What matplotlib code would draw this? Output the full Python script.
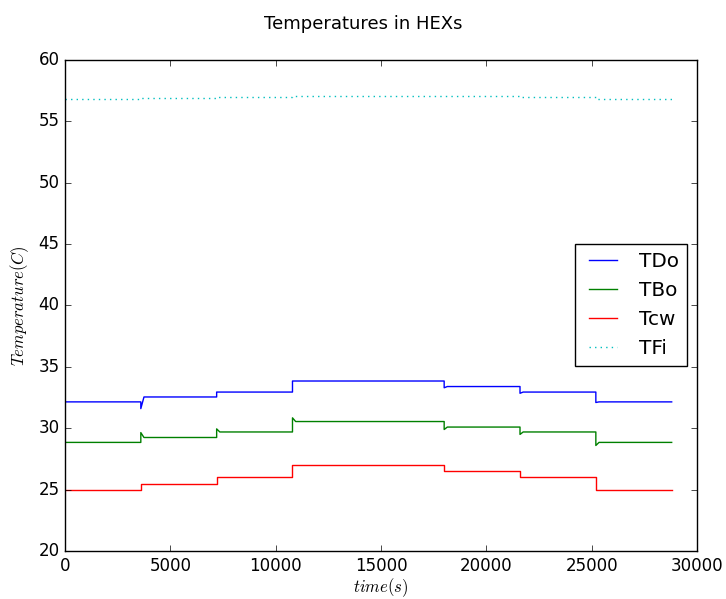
import matplotlib
matplotlib.use('Agg')
import matplotlib.pyplot as plt

plt.style.use('classic')

# step change times (s) and the level held after each step
step_times = [0, 3600, 7200, 10800, 18000, 21600, 25200, 28800]

tdo_levels = [32.15, 32.55, 32.95, 33.85, 33.4, 32.95, 32.15]
tdo_peaks = [31.6, 32.95, 33.85, 33.3, 32.85, 32.1]

tbo_levels = [28.85, 29.25, 29.7, 30.55, 30.1, 29.7, 28.85]
tbo_peaks = [29.65, 29.95, 30.85, 29.9, 29.5, 28.6]

tcw_levels = [25.0, 25.5, 26.0, 27.0, 26.55, 26.0, 25.0]
tcw_peaks = [25.5, 26.0, 27.0, 26.55, 26.0, 25.0]

tfi_levels = [56.82, 56.88, 56.95, 57.1, 57.07, 57.0, 56.82]
tfi_peaks = [56.88, 56.95, 57.1, 57.07, 57.0, 56.82]


def build(levels, peaks):
    x = [step_times[0]]
    y = [levels[0]]
    for i, t in enumerate(step_times[1:-1]):
        x += [t, t, t + 150]
        y += [levels[i], peaks[i], levels[i + 1]]
    x.append(step_times[-1])
    y.append(levels[-1])
    return x, y


fig = plt.figure(figsize=(7.26, 5.99), dpi=100, facecolor='white')
ax = fig.add_axes([0.0895, 0.08, 0.8705, 0.82])

ax.plot(*build(tdo_levels, tdo_peaks), color='b', label='TDo')
ax.plot(*build(tbo_levels, tbo_peaks), color='g', label='TBo')
ax.plot(*build(tcw_levels, tcw_peaks), color='r', label='Tcw')
ax.plot(*build(tfi_levels, tfi_peaks), color='c', linestyle=':', label='TFi')

ax.set_xlim(0, 30000)
ax.set_ylim(20, 60)
ax.set_xlabel('$time(s)$', labelpad=1)
ax.set_ylabel('$Temperature(C)$')
fig.suptitle('Temperatures in HEXs', y=0.975, fontsize=13)
ax.legend(loc='center right')

fig.savefig('out.png', facecolor='white')
